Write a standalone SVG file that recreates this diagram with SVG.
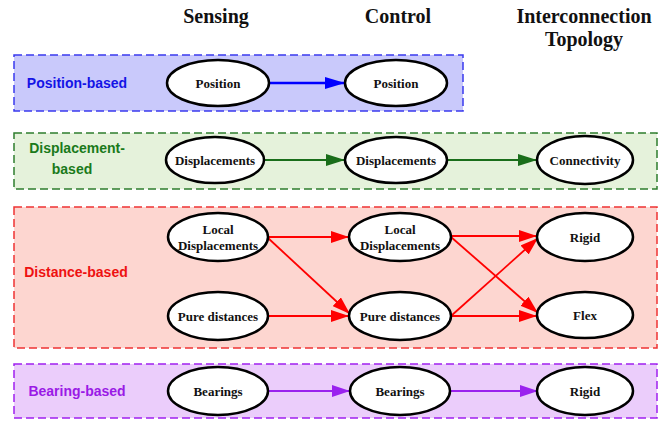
<svg xmlns="http://www.w3.org/2000/svg" width="667" height="421" viewBox="0 0 667 421">
<style>
.hdr{font-family:"Liberation Serif","Times New Roman",serif;font-weight:bold;font-size:20px;fill:#111;text-anchor:middle}
.lbl{font-family:"Liberation Sans",Arial,sans-serif;font-weight:bold;font-size:14px}
.nt{font-family:"Liberation Serif","Times New Roman",serif;font-weight:bold;font-size:13px;fill:#111;text-anchor:middle}
.node{fill:#fff;stroke:#000;stroke-width:2.5}
.box{stroke-width:1.5;stroke-dasharray:8 4}
</style>
<defs>
<marker id="ab" markerWidth="20" markerHeight="12" refX="20" refY="6" orient="auto" markerUnits="userSpaceOnUse"><path d="M0,0 L20,6 L0,12 Z" fill="#0000ff"/></marker>
<marker id="ag" markerWidth="19" markerHeight="12" refX="19" refY="6" orient="auto" markerUnits="userSpaceOnUse"><path d="M0,0 L19,6 L0,12 Z" fill="#1a6e1a"/></marker>
<marker id="ar" markerWidth="18" markerHeight="12" refX="18" refY="6" orient="auto" markerUnits="userSpaceOnUse"><path d="M0,0 L18,6 L0,12 Z" fill="#ff0000"/></marker>
<marker id="ap" markerWidth="18" markerHeight="12" refX="18" refY="6" orient="auto" markerUnits="userSpaceOnUse"><path d="M0,0 L18,6 L0,12 Z" fill="#9a22ee"/></marker>
</defs>

<g id="headers">
<text class="hdr" x="216" y="23">Sensing</text>
<text class="hdr" x="398" y="23">Control</text>
<text class="hdr" x="584" y="23">Interconnection</text>
<text class="hdr" x="584" y="46">Topology</text>
</g>

<g id="group-position">
<rect class="box" x="14" y="55" width="449" height="56" fill="#c9c9fb" stroke="#3a3aee"/>
<text class="lbl" x="77" y="88" text-anchor="middle" fill="#1414e6">Position-based</text>
</g>
<g id="group-displacement">
<rect class="box" x="14" y="133" width="643" height="56" fill="#e5f2db" stroke="#2e7d2e"/>
<text class="lbl" x="77" y="153" text-anchor="middle" fill="#1a7a1a">Displacement-</text>
<text class="lbl" x="72" y="174" text-anchor="middle" fill="#1a7a1a">based</text>
</g>
<g id="group-distance">
<rect class="box" x="14" y="207" width="643" height="141" fill="#fdd6d0" stroke="#ee3333"/>
<text class="lbl" x="76" y="277" text-anchor="middle" fill="#ee1111">Distance-based</text>
</g>
<g id="group-bearing">
<rect class="box" x="14" y="364" width="643" height="54" fill="#ebcdfb" stroke="#a020f0"/>
<text class="lbl" x="77" y="396" text-anchor="middle" fill="#9a1ae6">Bearing-based</text>
</g>

<g id="connectors" fill="none">
<line x1="269" y1="83" x2="345" y2="83" stroke="#0000ff" stroke-width="2.5" marker-end="url(#ab)"/>
<line x1="264" y1="160" x2="345" y2="160" stroke="#1a6e1a" stroke-width="2" marker-end="url(#ag)"/>
<line x1="447" y1="160" x2="537" y2="160" stroke="#1a6e1a" stroke-width="2" marker-end="url(#ag)"/>
<g stroke="#ff0000" stroke-width="1.8">
<line x1="268" y1="237" x2="349" y2="237" marker-end="url(#ar)"/>
<line x1="268" y1="238" x2="350" y2="314" marker-end="url(#ar)"/>
<line x1="268" y1="316" x2="349" y2="316" marker-end="url(#ar)"/>
<line x1="451" y1="236" x2="537" y2="236" marker-end="url(#ar)"/>
<line x1="451" y1="237" x2="538" y2="313" marker-end="url(#ar)"/>
<line x1="451" y1="316" x2="538" y2="238" marker-end="url(#ar)"/>
<line x1="451" y1="316" x2="537" y2="316" marker-end="url(#ar)"/>
</g>
<line x1="268" y1="391" x2="350" y2="391" stroke="#9a22ee" stroke-width="1.8" marker-end="url(#ap)"/>
<line x1="450" y1="391" x2="538" y2="391" stroke="#9a22ee" stroke-width="1.8" marker-end="url(#ap)"/>
</g>

<g id="n-pos-s"><ellipse class="node" cx="218" cy="83" rx="51" ry="23"/><text class="nt" x="218" y="88">Position</text></g>
<g id="n-pos-c"><ellipse class="node" cx="396" cy="83" rx="51" ry="23"/><text class="nt" x="396" y="88">Position</text></g>

<g id="n-disp-s"><ellipse class="node" cx="215" cy="160" rx="49" ry="23"/><text class="nt" x="215" y="165">Displacements</text></g>
<g id="n-disp-c"><ellipse class="node" cx="396" cy="160" rx="51" ry="23"/><text class="nt" x="396" y="165">Displacements</text></g>
<g id="n-conn"><ellipse class="node" cx="585" cy="160" rx="48" ry="24"/><text class="nt" x="585" y="165">Connectivity</text></g>

<g id="n-ld-s"><ellipse class="node" cx="218" cy="237" rx="50" ry="24"/><text class="nt" x="218" y="234">Local</text><text class="nt" x="218" y="250">Displacements</text></g>
<g id="n-pd-s"><ellipse class="node" cx="218" cy="316" rx="50" ry="24"/><text class="nt" x="218" y="321">Pure distances</text></g>
<g id="n-ld-c"><ellipse class="node" cx="400" cy="237" rx="51" ry="24"/><text class="nt" x="400" y="234">Local</text><text class="nt" x="400" y="250">Displacements</text></g>
<g id="n-pd-c"><ellipse class="node" cx="400" cy="316" rx="51" ry="24"/><text class="nt" x="400" y="321">Pure distances</text></g>
<g id="n-rigid-d"><ellipse class="node" cx="585" cy="237" rx="48" ry="24"/><text class="nt" x="585" y="242">Rigid</text></g>
<g id="n-flex"><ellipse class="node" cx="585" cy="315" rx="48" ry="23"/><text class="nt" x="585" y="320">Flex</text></g>

<g id="n-bear-s"><ellipse class="node" cx="218" cy="391" rx="50" ry="24"/><text class="nt" x="218" y="396">Bearings</text></g>
<g id="n-bear-c"><ellipse class="node" cx="400" cy="391" rx="50" ry="24"/><text class="nt" x="400" y="396">Bearings</text></g>
<g id="n-rigid-b"><ellipse class="node" cx="585" cy="391" rx="48" ry="24"/><text class="nt" x="585" y="396">Rigid</text></g>
</svg>
